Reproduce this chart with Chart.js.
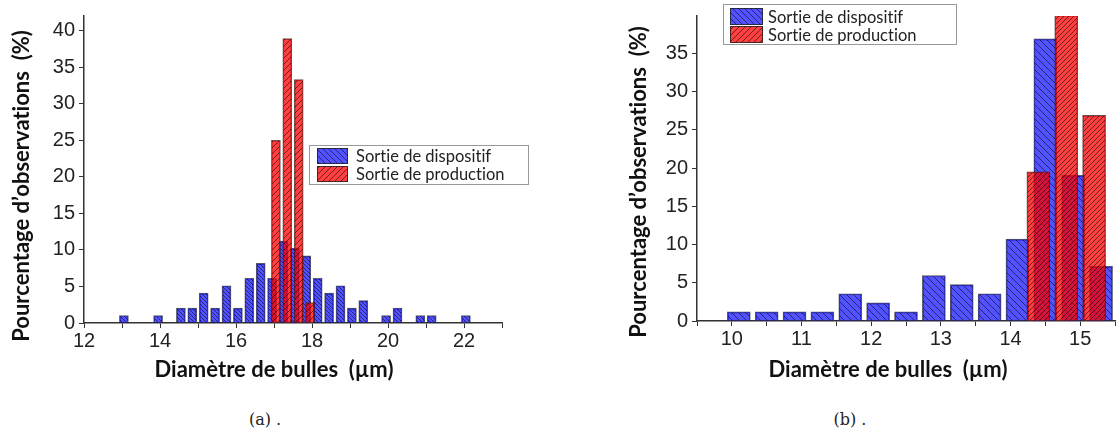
<!DOCTYPE html>
<html lang="fr">
<head>
<meta charset="UTF-8">
<title>Diamètre de bulles</title>
<script src="https://cdn.jsdelivr.net/npm/chart.js"></script>
<style>
  body { margin: 0; background: #fff; width: 1116px; height: 435px; position: relative; overflow: hidden; }
  canvas { position: absolute; top: 0; }
  #chartA { left: 0; }
  #chartB { left: 580px; }
  .caption { position: absolute; top: 410px; width: 100px; text-align: center; font: 16px "DejaVu Serif", serif; color: #222; }
</style>
</head>
<body>
<canvas id="chartA" width="540" height="400"></canvas>
<canvas id="chartB" width="536" height="400"></canvas>
<div class="caption" style="left:215px">(a) .</div>
<div class="caption" style="left:800px">(b) .</div>
<script>
// (a) left panel
const diamA_dispositif = [13.05, 13.95, 14.55, 14.85, 15.15, 15.45, 15.75, 16.05, 16.35, 16.65, 16.95, 17.25,
                          17.55, 17.85, 18.15, 18.45, 18.75, 19.05, 19.35, 19.95, 20.25, 20.85, 21.15, 22.05];
const pctA_dispositif  = [1.02, 1.02, 2.04, 2.04, 4.08, 2.04, 5.10, 2.04, 6.12, 8.16, 6.12, 11.22,
                          10.20, 9.18, 6.12, 4.08, 5.10, 2.04, 3.06, 1.02, 2.04, 1.02, 1.02, 1.02];
const diamA_production = [17.05, 17.35, 17.65, 17.95];
const pctA_production  = [25.0, 38.9, 33.3, 2.8];

// (b) right panel
const diamB_dispositif = [10.1, 10.5, 10.9, 11.3, 11.7, 12.1, 12.5, 12.9, 13.3, 13.7, 14.1, 14.5, 14.9, 15.3];
const pctB_dispositif  = [1.19, 1.19, 1.19, 1.19, 3.57, 2.38, 1.19, 5.95, 4.76, 3.57, 10.71, 36.9, 19.05, 7.14];
const diamB_production = [14.4, 14.8, 15.2];
const pctB_production  = [19.5, 40.0, 26.9];

const labels = ['Sortie de dispositif', 'Sortie de production'];
const xTitle = 'Diamètre de bulles  (µm)';
const yTitle = 'Pourcentage d’observations  (%)';

const BLUE = 'rgba(0,0,255,0.68)';
const RED = 'rgba(255,0,0,0.75)';
const tickFont = { family: '"Liberation Sans", Arial, sans-serif', size: 20 };
const titleFont = 'bold 22px Lato, "Open Sans", sans-serif';
const legendFont = '16.5px Lato, "Open Sans", sans-serif';

function hatch(color, s, back) {
  const c = document.createElement('canvas');
  c.width = c.height = s;
  const g = c.getContext('2d');
  g.fillStyle = color;
  g.fillRect(0, 0, s, s);
  g.strokeStyle = 'rgba(0,0,0,0.55)';
  g.lineWidth = 1;
  g.beginPath();
  if (back) {
    g.moveTo(-1, -1); g.lineTo(s + 1, s + 1);
    g.moveTo(-1, s - 1); g.lineTo(1, s + 1);
    g.moveTo(s - 1, -1); g.lineTo(s + 1, 1);
  } else {
    g.moveTo(-1, s + 1); g.lineTo(s + 1, -1);
    g.moveTo(-1, 1); g.lineTo(1, -1);
    g.moveTo(s - 1, s + 1); g.lineTo(s + 1, s - 1);
  }
  g.stroke();
  return g.createPattern(c, 'repeat');
}

const pts = (xs, ys) => xs.map((x, i) => ({ x: x, y: ys[i] }));

// draws titles + framed legend inside the plot
const decor = {
  id: 'decor',
  afterDraw(chart, args, o) {
    const ctx = chart.ctx;
    ctx.save();
    ctx.letterSpacing = '0.01px'; // no "ti" ligature
    ctx.fillStyle = '#111';
    ctx.font = titleFont;
    ctx.textAlign = 'center';
    ctx.textBaseline = 'middle';
    ctx.fillText(xTitle, o.xt[0], o.xt[1]);
    ctx.translate(o.yt[0], o.yt[1]);
    ctx.rotate(-Math.PI / 2);
    ctx.fillText(yTitle, 0, 0);
    ctx.restore();

    const L = o.legend;
    ctx.save();
    ctx.letterSpacing = '0.01px';
    ctx.fillStyle = '#fff';
    ctx.fillRect(L.x, L.y, L.w, L.h);
    ctx.strokeStyle = '#999';
    ctx.lineWidth = 1;
    ctx.strokeRect(L.x + 0.5, L.y + 0.5, L.w, L.h);
    ctx.font = legendFont;
    ctx.textBaseline = 'middle';
    chart.data.datasets.forEach((ds, i) => {
      const r = L.rows[i];
      ctx.fillStyle = ds.legendFill;
      ctx.fillRect(L.sx, r[0], L.sw, r[1]);
      ctx.strokeStyle = 'rgba(30,30,30,0.8)';
      ctx.strokeRect(L.sx + 0.5, r[0] + 0.5, L.sw - 1, r[1] - 1);
      ctx.fillStyle = '#222';
      ctx.fillText(ds.label, L.tx, r[0] + r[1] / 2 + 1);
    });
    ctx.restore();
  }
};

function axisX(min, max, step, fit, isLabel) {
  return {
    type: 'linear', min: min, max: max, offset: false,
    afterFit: s => { s.height = fit; },
    ticks: { stepSize: step, font: tickFont, color: '#222', padding: 1, maxRotation: 0, autoSkip: false,
             callback: v => isLabel(v) ? v : '' },
    grid: { drawOnChartArea: false, drawTicks: true, tickLength: 5, color: '#333', offset: false },
    border: { color: '#333', width: 1.5 }
  };
}
function axisY(max, fit) {
  return {
    min: 0, max: max,
    afterFit: s => { s.width = fit; },
    ticks: { stepSize: 2.5, includeBounds: false, font: tickFont, color: '#222', padding: 4,
             callback: v => v % 5 === 0 ? v : '' },
    grid: { drawOnChartArea: false, drawTicks: true, tickLength: 5, color: '#333' },
    border: { color: '#333', width: 1.5 }
  };
}

function makeChart(id, d, cfg) {
  return new Chart(document.getElementById(id), {
    type: 'bar',
    data: {
      datasets: [
        { label: labels[0], data: pts(d.bx, d.by), order: 2, grouped: false, barThickness: cfg.bar,
          backgroundColor: hatch(BLUE, cfg.hb, true), legendFill: hatch(BLUE, 6, true),
          borderColor: 'rgba(30,30,60,0.75)', borderWidth: 1 },
        { label: labels[1], data: pts(d.rx, d.ry), order: 1, grouped: false, barThickness: cfg.bar,
          backgroundColor: hatch(RED, cfg.hr, false), legendFill: hatch(RED, 6, false),
          borderColor: 'rgba(60,20,20,0.75)', borderWidth: 1 }
      ]
    },
    options: {
      responsive: false,
      animation: false,
      layout: { padding: cfg.pad },
      scales: { x: cfg.x, y: cfg.y },
      plugins: { legend: { display: false }, tooltip: { enabled: false }, decor: cfg.decor }
    },
    plugins: [decor]
  });
}

makeChart('chartA',
  { bx: diamA_dispositif, by: pctA_dispositif, rx: diamA_production, ry: pctA_production },
  {
    bar: 9, hb: 4, hr: 6,
    pad: { left: 0, top: 12, right: 38, bottom: 0 },
    x: axisX(12, 23, 1, 77, v => v % 2 === 0),
    y: axisY(42, 84),
    decor: { xt: [274, 370], yt: [22, 186],
             legend: { x: 309, y: 145, w: 219, h: 39, sx: 317, sw: 31, rows: [[148, 16], [166, 16]], tx: 356 } }
  });

makeChart('chartB',
  { bx: diamB_dispositif, by: pctB_dispositif, rx: diamB_production, ry: pctB_production },
  {
    bar: 23, hb: 7, hr: 5,
    pad: { left: 0, top: 7, right: 0, bottom: 0 },
    x: axisX(9.5, 15.5, 0.5, 79, v => Number.isInteger(v)),
    y: axisY(39.9, 117),
    decor: { xt: [308, 370], yt: [59, 182],
             legend: { x: 143, y: 4, w: 233, h: 40, sx: 150, sw: 33, rows: [[8, 17], [26, 17]], tx: 188 } }
  });
</script>
</body>
</html>
